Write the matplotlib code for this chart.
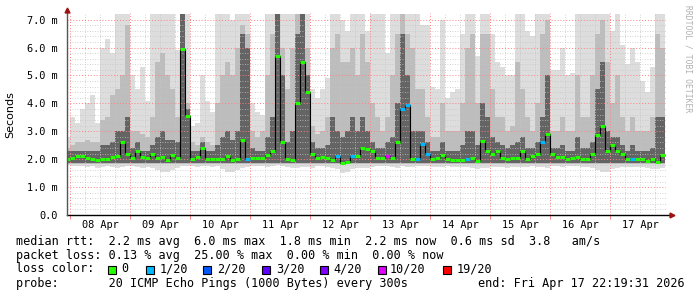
import matplotlib
matplotlib.use("Agg")
import matplotlib.pyplot as plt
import numpy as np
from matplotlib.patches import Rectangle
from matplotlib.transforms import blended_transform_factory

# 2-hour bins, first bin starts 2 h before midnight 08 Apr
BIN_HOURS = 2
START_HOUR = -2

median = [
    2.0, 2.05, 2.1, 2.1, 2.05, 2.0, 1.97, 2.0, 2.0, 2.08,
    2.1, 2.6, 2.2, 2.05, 2.3, 2.07, 2.03, 2.2, 2.05, 2.08,
    1.96, 2.15, 2.05, 5.95, 3.55, 2.0, 2.08, 2.4, 2.0, 2.02,
    2.0, 2.0, 2.12, 1.96, 2.0, 2.7, 2.0, 2.05, 2.05, 2.05,
    2.15, 2.3, 5.7, 2.6, 2.0, 1.98, 4.0, 5.5, 4.4, 2.2,
    2.05, 2.07, 2.05, 1.97, 2.1, 1.85, 1.9, 2.1, 2.1, 2.4,
    2.35, 2.3, 2.05, 2.05, 2.1, 2.05, 2.6, 3.8, 3.95, 2.0,
    2.0, 2.55, 2.2, 2.0, 2.05, 2.15, 2.0, 1.96, 1.96, 1.96,
    2.0, 2.05, 1.92, 2.65, 2.3, 2.2, 2.3, 2.05, 2.0, 2.05,
    2.05, 2.3, 2.0, 2.1, 2.2, 2.6, 2.9, 2.2, 2.08, 2.08,
    2.02, 2.03, 2.07, 2.0, 2.0, 2.2, 2.85, 3.2, 2.3, 2.5,
    2.3, 2.2, 2.0, 2.0, 2.0, 2.0, 1.95, 2.0, 1.9, 2.15,
]

smoke_top = [
    2.8, 3.5, 3.3, 3.8, 4.0, 4.3, 3.3, 6.0, 6.3, 5.8,
    7.2, 7.2, 7.2, 5.0, 4.5, 5.3, 4.1, 7.2, 7.2, 7.2,
    7.2, 7.2, 5.9, 7.2, 7.2, 3.2, 3.3, 5.0, 4.1, 3.7,
    7.2, 7.2, 7.2, 7.0, 7.2, 7.2, 7.2, 4.0, 3.7, 3.6,
    7.2, 7.2, 7.2, 7.2, 7.2, 7.2, 7.2, 7.2, 7.2, 4.5,
    4.2, 4.5, 4.9, 7.2, 7.2, 7.0, 6.6, 7.2, 7.2, 7.2,
    6.6, 7.2, 7.2, 7.2, 5.8, 7.2, 7.2, 7.2, 7.2, 7.2,
    7.2, 6.8, 6.8, 4.6, 4.5, 7.0, 4.2, 4.4, 4.5, 6.5,
    7.2, 7.2, 5.7, 7.2, 7.2, 6.5, 5.5, 5.3, 5.0, 5.0,
    7.2, 7.2, 6.6, 6.4, 7.2, 7.2, 7.2, 5.2, 5.2, 6.0,
    5.0, 5.1, 7.2, 7.2, 7.2, 7.2, 7.2, 7.2, 7.2, 6.6,
    7.2, 6.1, 5.4, 6.0, 5.5, 4.8, 4.4, 5.3, 7.2, 7.2,
]

smoke_mid = [
    2.4, 2.5, 2.6, 2.6, 2.7, 2.6, 2.6, 3.4, 3.5, 4.3,
    4.5, 5.0, 6.8, 3.0, 3.0, 2.9, 2.8, 3.5, 5.5, 5.8,
    5.0, 4.5, 3.5, 7.2, 4.0, 2.6, 2.5, 2.8, 2.6, 2.5,
    4.0, 5.0, 5.5, 5.0, 6.0, 6.8, 6.5, 3.0, 2.8, 3.0,
    5.0, 6.5, 7.2, 6.0, 4.5, 6.0, 7.2, 7.2, 6.0, 3.2,
    2.9, 3.0, 3.5, 6.0, 6.5, 5.5, 5.5, 6.0, 5.0, 6.5,
    5.5, 4.0, 3.5, 3.0, 3.5, 5.0, 6.5, 7.2, 6.5, 6.0,
    4.5, 4.5, 3.5, 2.8, 2.8, 4.0, 3.0, 3.0, 3.0, 4.0,
    6.0, 6.5, 4.0, 6.5, 6.5, 4.5, 3.5, 3.5, 3.0, 3.2,
    5.5, 4.5, 3.5, 3.0, 4.0, 6.5, 7.0, 3.0, 3.0, 3.5,
    3.0, 3.0, 5.0, 3.5, 3.5, 5.0, 6.5, 7.0, 5.5, 4.0,
    5.0, 3.5, 3.0, 3.5, 3.0, 3.0, 3.0, 3.5, 6.5, 6.0,
]

smoke_dark = [
    2.3, 2.3, 2.3, 2.3, 2.3, 2.3, 2.3, 2.5, 2.5, 2.6,
    3.0, 3.0, 3.5, 2.4, 2.6, 2.3, 2.3, 2.5, 2.8, 3.0,
    2.7, 2.7, 2.6, 7.2, 3.8, 2.3, 2.3, 2.6, 2.3, 2.3,
    2.5, 2.8, 3.0, 2.7, 3.0, 6.5, 6.0, 2.4, 2.3, 2.3,
    2.8, 3.5, 7.2, 5.0, 2.6, 3.0, 6.5, 7.2, 5.0, 2.6,
    2.4, 2.4, 2.5, 3.5, 3.0, 2.8, 3.0, 3.5, 3.0, 3.5,
    3.0, 2.6, 2.4, 2.4, 2.6, 2.8, 4.0, 6.5, 5.0, 3.0,
    3.0, 3.0, 2.6, 2.3, 2.3, 2.6, 2.3, 2.3, 2.3, 2.5,
    3.0, 3.0, 2.5, 4.0, 3.5, 2.8, 2.6, 2.5, 2.4, 2.5,
    2.6, 2.8, 2.4, 2.4, 2.6, 3.5, 5.0, 2.4, 2.4, 2.5,
    2.3, 2.3, 2.8, 2.4, 2.4, 2.6, 4.5, 5.5, 3.0, 2.8,
    2.8, 2.5, 2.3, 2.5, 2.3, 2.3, 2.3, 2.4, 3.5, 3.5,
]

smoke_low = [
    1.78, 1.75, 1.75, 1.75, 1.72, 1.75, 1.7, 1.72, 1.75, 1.72,
    1.7, 1.72, 1.75, 1.75, 1.72, 1.7, 1.72, 1.7, 1.6, 1.55,
    1.55, 1.6, 1.7, 1.75, 1.75, 1.75, 1.72, 1.75, 1.75, 1.72,
    1.75, 1.65, 1.55, 1.55, 1.6, 1.7, 1.72, 1.75, 1.75, 1.75,
    1.72, 1.75, 1.8, 1.75, 1.72, 1.7, 1.7, 1.72, 1.72, 1.7,
    1.75, 1.75, 1.72, 1.7, 1.65, 1.5, 1.55, 1.65, 1.7, 1.7,
    1.7, 1.72, 1.75, 1.75, 1.75, 1.72, 1.7, 1.75, 1.72, 1.72,
    1.75, 1.75, 1.75, 1.72, 1.72, 1.72, 1.75, 1.72, 1.72, 1.72,
    1.72, 1.7, 1.65, 1.7, 1.7, 1.72, 1.72, 1.72, 1.7, 1.72,
    1.72, 1.72, 1.72, 1.75, 1.72, 1.72, 1.7, 1.75, 1.75, 1.72,
    1.75, 1.75, 1.75, 1.72, 1.72, 1.7, 1.6, 1.55, 1.55, 1.65,
    1.7, 1.72, 1.72, 1.72, 1.72, 1.72, 1.7, 1.65, 1.65, 1.7,
]

# bins where pings were lost, and how many of 20
loss_bins = [36, 54, 57, 64, 67, 68, 70, 71, 72, 80, 95, 113]
loss_counts = [1, 1, 1, 10, 1, 1, 1, 1, 1, 1, 1, 1]

loss_labels = ["0", "1/20", "2/20", "3/20", "4/20", "10/20", "19/20"]
loss_steps = [0, 1, 2, 3, 4, 10, 19]
loss_colors = ["#26ff00", "#00b8ff", "#0059ff", "#5e00ff", "#7e00ff", "#dd00ff", "#ff0000"]

day_labels = ["08 Apr", "09 Apr", "10 Apr", "11 Apr", "12 Apr",
              "13 Apr", "14 Apr", "15 Apr", "16 Apr", "17 Apr"]

stat_lines = [
    "median rtt:  2.2 ms avg  6.0 ms max  1.8 ms min  2.2 ms now  0.6 ms sd  3.8   am/s",
    "packet loss: 0.13 % avg  25.00 % max  0.00 % min  0.00 % now",
]
probe_text = "probe:       20 ICMP Echo Pings (1000 Bytes) every 300s"
end_text = "end: Fri Apr 17 22:19:31 2026"

MONO = "DejaVu Sans Mono"
W, H = 697, 297
X_MIN, X_MAX = -1.2, 238.4
Y_MAX = 7.24
MID_FLOOR = 1.82
DARK_FLOOR = 1.88


def loss_color(count):
    color = loss_colors[0]
    for step, c in zip(loss_steps, loss_colors):
        if count >= step:
            color = c
    return color


fig = plt.figure(figsize=(W / 100, H / 100), dpi=100)
fig.patch.set_facecolor("white")
ax = fig.add_axes([67 / W, (H - 215) / H, (666 - 67) / W, (215 - 13) / H])

n = len(median)
left = START_HOUR + BIN_HOURS * np.arange(n)
top = np.array(smoke_top)
mid = np.array(smoke_mid)
dark = np.array(smoke_dark)
low = np.array(smoke_low)
med = np.array(median)

# smoke, light to dark
ax.bar(left, top - low, bottom=low, width=BIN_HOURS, align="edge", color="#dddddd", linewidth=0, zorder=1)
ax.bar(left, mid - MID_FLOOR, bottom=MID_FLOOR, width=BIN_HOURS, align="edge", color="#bdbdbd", linewidth=0, zorder=1)
ax.bar(left, dark - DARK_FLOOR, bottom=DARK_FLOOR, width=BIN_HOURS, align="edge", color="#646464", linewidth=0, zorder=1)

# grid on top of the smoke, like rrdtool
for v in np.arange(0.2, 7.01, 0.2):
    if abs(v - round(v)) > 1e-6:
        ax.axhline(v, color="#c4c4c4", lw=0.6, ls=(0, (1, 2)), zorder=2)
for h in range(6, 240, 6):
    if h % 24:
        ax.axvline(h, color="#c4c4c4", lw=0.6, ls=(0, (1, 2)), zorder=2)
for v in range(1, 8):
    ax.axhline(v, color="#ff8080", lw=0.7, ls=(0, (1, 2)), zorder=2)
for h in range(0, 240, 24):
    ax.axvline(h, color="#ff8080", lw=0.7, ls=(0, (1, 2)), zorder=2)

# median line: thin black connector plus loss-coloured segments
edges = np.append(left, left[-1] + BIN_HOURS)
ax.stairs(med, edges, baseline=None, color="black", lw=0.8, zorder=3)
counts = np.zeros(n, dtype=int)
counts[loss_bins] = loss_counts
seg_colors = [loss_color(c) for c in counts]
ax.hlines(med, left, left + BIN_HOURS, colors=seg_colors, lw=2.2, zorder=4)

ax.set_xlim(X_MIN, X_MAX)
ax.set_ylim(0, Y_MAX)
for s in ax.spines.values():
    s.set_visible(False)

# axes with arrows
ax.plot([X_MIN, 239.8], [0, 0], color="black", lw=1.0, clip_on=False, zorder=5)
ax.plot([X_MIN, X_MIN], [0, 7.3], color="#555555", lw=1.0, clip_on=False, zorder=5)
ax.plot([240.6], [0], marker=">", ms=3.5, color="#a01010", clip_on=False, zorder=6)
ax.plot([X_MIN], [7.36], marker="^", ms=3.5, color="#a01010", clip_on=False, zorder=6)

ax.set_yticks(range(8))
ax.set_yticklabels(["0.0"] + [f"{v}.0 m" for v in range(1, 8)], fontfamily=MONO, fontsize=7.4)
ax.tick_params(axis="y", length=0, pad=7)
ax.set_xticks(range(0, 240, 24))
ax.set_xticklabels([])
ax.tick_params(axis="x", which="major", length=3, color="#ff8080", width=0.7)
trans = blended_transform_factory(ax.transData, fig.transFigure)
for i, lab in enumerate(day_labels):
    ax.text(12 + 24 * i, (H - 225) / H, lab, transform=trans, ha="center", va="center",
            fontfamily=MONO, fontsize=7.4)

fig.text(10 / W, (H - 115) / H, "Seconds", rotation=90, ha="center", va="center", fontsize=8)
fig.text(688 / W, (H - 5) / H, "RRDTOOL / TOBI OETIKER", rotation=270, ha="center", va="top",
         fontfamily=MONO, fontsize=5.8, color="#b0b0b0")

# legend / stats block
for k, line in enumerate(stat_lines):
    fig.text(16 / W, (H - 241 - 14 * k) / H, line, ha="left", va="center", fontfamily=MONO, fontsize=8.5)
fig.text(16 / W, (H - 269) / H, "loss color:", ha="left", va="center", fontfamily=MONO, fontsize=8.5)
square_x = [108, 146, 203, 262, 320, 378, 443]
label_x = [121, 160, 217, 276, 333, 390, 457]
for sx, lx, lab, c in zip(square_x, label_x, loss_labels, loss_colors):
    fig.add_artist(Rectangle((sx / W, (H - 273.5) / H), 8 / W, 8 / H, transform=fig.transFigure,
                             facecolor=c, edgecolor="black", lw=0.8))
    fig.text(lx / W, (H - 269) / H, lab, ha="left", va="center", fontfamily=MONO, fontsize=8.5)
fig.text(16 / W, (H - 283) / H, probe_text, ha="left", va="center", fontfamily=MONO, fontsize=8.5)
fig.text(478 / W, (H - 283) / H, end_text, ha="left", va="center", fontfamily=MONO, fontsize=8.5)

fig.savefig("out.png", dpi=100, facecolor="white")
